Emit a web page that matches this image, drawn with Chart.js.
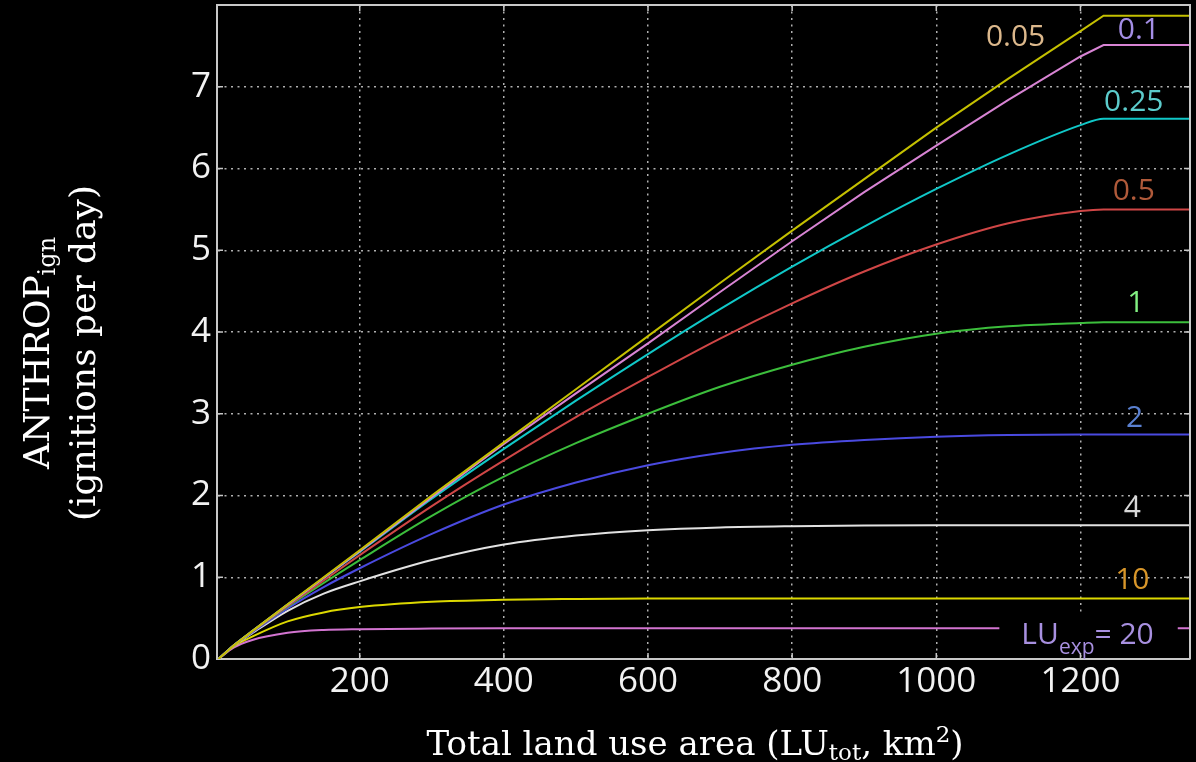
<!DOCTYPE html>
<html>
<head>
<meta charset="utf-8">
<script src="https://cdn.jsdelivr.net/npm/chart.js@4.4.1/dist/chart.umd.min.js"></script>
<style>
  html, body { margin: 0; padding: 0; background: #000; overflow: hidden; }
  canvas { display: block; }
</style>
</head>
<body>
<canvas id="chart" width="1196" height="762"></canvas>
<script>
// Total land use area LU_tot (km²) at which each curve is sampled
const landUse = [4, 25, 50, 100, 150, 200, 300, 400, 500, 600, 700, 800, 900, 1000, 1100, 1200, 1232, 1352];

// ANTHROP_ign (ignitions per day) for each LU_exp value
const ign005 = [0, 0.165, 0.335, 0.67, 1.0, 1.33, 2.0, 2.65, 3.3, 3.95, 4.6, 5.24, 5.87, 6.5, 7.1, 7.68, 7.87, 7.87];
const ign01  = [0, 0.165, 0.335, 0.665, 0.99, 1.32, 1.98, 2.63, 3.25, 3.86, 4.49, 5.11, 5.71, 6.28, 6.84, 7.37, 7.51, 7.51];
const ign025 = [0, 0.165, 0.335, 0.665, 0.99, 1.31, 1.96, 2.57, 3.16, 3.73, 4.28, 4.8, 5.29, 5.75, 6.17, 6.53, 6.61, 6.61];
const ign05  = [0, 0.165, 0.33, 0.65, 0.96, 1.27, 1.87, 2.43, 2.96, 3.45, 3.92, 4.35, 4.74, 5.07, 5.33, 5.48, 5.5, 5.5];
const ign1   = [0, 0.165, 0.33, 0.64, 0.93, 1.21, 1.75, 2.23, 2.64, 3.0, 3.33, 3.6, 3.82, 3.98, 4.07, 4.11, 4.12, 4.12];
const ign2   = [0, 0.165, 0.32, 0.62, 0.88, 1.11, 1.53, 1.89, 2.16, 2.37, 2.52, 2.62, 2.68, 2.72, 2.74, 2.745, 2.745, 2.745];
const ign4   = [0, 0.163, 0.31, 0.59, 0.8, 0.95, 1.21, 1.4, 1.51, 1.575, 1.61, 1.625, 1.632, 1.635, 1.636, 1.636, 1.636, 1.636];
const ign10  = [0, 0.155, 0.27, 0.46, 0.57, 0.635, 0.7, 0.725, 0.735, 0.74, 0.74, 0.74, 0.74, 0.74, 0.74, 0.74, 0.74, 0.74];
const ign20  = [0, 0.14, 0.23, 0.32, 0.355, 0.365, 0.372, 0.375, 0.375, 0.375, 0.375, 0.375, 0.375, 0.375, 0.375, 0.375, 0.375, 0.375];

const luExp = ['0.05', '0.1', '0.25', '0.5', '1', '2', '4', '10', '20'];
const seriesValues = [ign005, ign01, ign025, ign05, ign1, ign2, ign4, ign10, ign20];

// Tick labels
const xTicks = [200, 400, 600, 800, 1000, 1200];
const yTicks = [0, 1, 2, 3, 4, 5, 6, 7];

// Line and label colours per LU_exp
const lineColors  = ['#c4c000', '#d884d4', '#10c8c8', '#d04646', '#3cbe3c', '#4a4ae0', '#e2e2e2', '#dcd800', '#d274d0'];
const labelColors = ['#dcb88c', '#a48ee6', '#5ccccc', '#b05a3a', '#82f082', '#5a80d0', '#d8d8d8', '#d8962a', '#a890e0'];

// Curve label anchors in data units (centre of the text)
const labelAnchors = [
  { x: 1110, y: 7.60 }, { x: 1281, y: 7.69 }, { x: 1274, y: 6.81 }, { x: 1274, y: 5.72 },
  { x: 1277, y: 4.35 }, { x: 1275, y: 2.94 }, { x: 1272, y: 1.84 }, { x: 1272, y: 0.96 },
  { x: 1118, y: 0.32 }
];

// The two nearly straight curves are drawn as polylines so their corner at the
// area cap stays sharp; the others use monotone smoothing.
const datasets = seriesValues.map((vals, i) => ({
  label: 'LU_exp = ' + luExp[i],
  data: landUse.map((x, j) => ({ x: x, y: vals[j] })),
  borderColor: lineColors[i],
  borderWidth: 2,
  pointRadius: 0,
  fill: false,
  cubicInterpolationMode: i < 2 ? 'default' : 'monotone',
  tension: 0
}));

const FRAME = '#c8c8c8';
const SERIF = '"DejaVu Serif", "Liberation Serif", serif';
const SANS = '"Open Sans", "DejaVu Sans", sans-serif';

function drawRuns(ctx, runs, cx, baseY) {
  let total = 0;
  runs.forEach(r => { ctx.font = r.font; r.w = ctx.measureText(r.text).width; total += r.w; });
  let x = cx - total / 2;
  runs.forEach(r => {
    ctx.font = r.font;
    ctx.fillStyle = r.color;
    ctx.fillText(r.text, x, baseY + (r.dy || 0));
    x += r.w;
  });
}

// Frame (top/right edges) and inward tick marks on all four sides
const framePlugin = {
  id: 'frame',
  afterDraw(chart) {
    const { ctx, chartArea: a, scales: { x, y } } = chart;
    ctx.save();
    ctx.strokeStyle = FRAME;
    ctx.lineWidth = 2;
    ctx.beginPath();
    ctx.moveTo(a.left, a.top); ctx.lineTo(a.right, a.top); ctx.lineTo(a.right, a.bottom);
    ctx.stroke();
    ctx.lineWidth = 1.5;
    ctx.beginPath();
    xTicks.forEach(v => {
      const px = x.getPixelForValue(v);
      ctx.moveTo(px, a.bottom); ctx.lineTo(px, a.bottom - 6);
      ctx.moveTo(px, a.top); ctx.lineTo(px, a.top + 6);
    });
    yTicks.slice(1).forEach(v => {
      const py = y.getPixelForValue(v);
      ctx.moveTo(a.left, py); ctx.lineTo(a.left + 6, py);
      ctx.moveTo(a.right, py); ctx.lineTo(a.right - 6, py);
    });
    ctx.stroke();
    ctx.restore();
  }
};

// Curve labels (LU_exp values)
const curveLabelPlugin = {
  id: 'curveLabels',
  afterDatasetsDraw(chart) {
    const { ctx, scales: { x, y } } = chart;
    ctx.save();
    ctx.textBaseline = 'middle';
    ctx.textAlign = 'center';
    ctx.font = '30px ' + SANS;
    for (let i = 0; i < luExp.length - 1; i++) {
      ctx.fillStyle = labelColors[i];
      ctx.fillText(luExp[i], x.getPixelForValue(labelAnchors[i].x), y.getPixelForValue(labelAnchors[i].y));
    }
    // Last curve carries the full "LU_exp = 20" label on a black box
    const k = luExp.length - 1;
    const left = x.getPixelForValue(labelAnchors[k].x);
    const cy = y.getPixelForValue(labelAnchors[k].y);
    const runs = [
      { text: 'LU', font: '30px ' + SANS, color: labelColors[k] },
      { text: 'exp', font: '21px ' + SANS, color: labelColors[k], dy: 10 },
      { text: '= ' + luExp[k], font: '30px ' + SANS, color: labelColors[k] }
    ];
    let w = 0;
    runs.forEach(r => { ctx.font = r.font; w += ctx.measureText(r.text).width; });
    ctx.fillStyle = '#000';
    ctx.fillRect(left - 22, cy - 20, w + 46, 40);
    ctx.textAlign = 'left';
    ctx.textBaseline = 'alphabetic';
    drawRuns(ctx, runs, left + w / 2, cy + 11);
    ctx.restore();
  }
};

// Axis titles with sub- and superscripts
const titlePlugin = {
  id: 'axisTitles',
  afterDraw(chart) {
    const { ctx } = chart;
    ctx.save();
    ctx.textAlign = 'left';
    ctx.textBaseline = 'alphabetic';
    const col = '#ffffff';
    drawRuns(ctx, [
      { text: 'Total land use area (LU', font: '34px ' + SERIF, color: col },
      { text: 'tot', font: '23px ' + SERIF, color: col, dy: 5 },
      { text: ', km', font: '34px ' + SERIF, color: col },
      { text: '2', font: '23px ' + SERIF, color: col, dy: -13 },
      { text: ')', font: '34px ' + SERIF, color: col }
    ], 695, 755);

    ctx.translate(0, 353);
    ctx.rotate(-Math.PI / 2);
    drawRuns(ctx, [
      { text: 'ANTHROP', font: '36px ' + SERIF, color: col },
      { text: 'ign', font: '24px ' + SERIF, color: col, dy: 6 }
    ], 0, 49);
    drawRuns(ctx, [
      { text: '(ignitions per day)', font: '36px ' + SERIF, color: col }
    ], 0, 95);
    ctx.restore();
  }
};

function noEdgePadding(s) {
  s.paddingTop = 0; s.paddingBottom = 0; s.paddingLeft = 0; s.paddingRight = 0;
}

new Chart(document.getElementById('chart'), {
  type: 'line',
  data: { datasets: datasets },
  options: {
    responsive: false,
    devicePixelRatio: 1,
    animation: false,
    layout: { padding: { top: 5, right: 6, left: 0, bottom: 0 } },
    plugins: { legend: { display: false }, tooltip: { enabled: false } },
    scales: {
      x: {
        type: 'linear',
        min: 2,
        max: 1352,
        afterBuildTicks: s => { s.ticks = xTicks.map(v => ({ value: v })); },
        afterFit: s => { s.height = 103; noEdgePadding(s); },
        grid: { color: '#b0b0b0', lineWidth: 1.5, drawTicks: false },
        border: { display: true, color: FRAME, width: 2, dash: [2, 4.5] },
        ticks: {
          color: '#f2f2f2', font: { family: SANS, size: 35 }, padding: 2, maxRotation: 0,
          callback: v => String(v)
        }
      },
      y: {
        type: 'linear',
        min: 0,
        max: 8,
        afterBuildTicks: s => { s.ticks = yTicks.map(v => ({ value: v })); },
        afterFit: s => { s.width = 217; noEdgePadding(s); },
        grid: { color: '#b0b0b0', lineWidth: 1.5, drawTicks: false },
        border: { display: true, color: FRAME, width: 2, dash: [2, 4.5] },
        ticks: { color: '#f2f2f2', font: { family: SANS, size: 35 }, padding: 6, callback: v => String(v) }
      }
    }
  },
  plugins: [framePlugin, curveLabelPlugin, titlePlugin]
});
</script>
</body>
</html>
